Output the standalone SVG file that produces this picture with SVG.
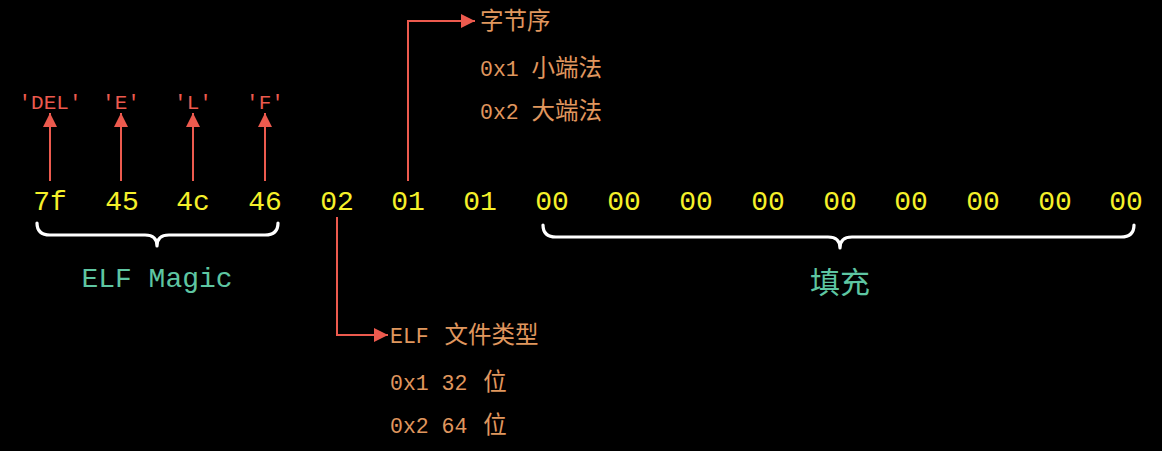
<svg xmlns="http://www.w3.org/2000/svg" width="1162" height="451" viewBox="0 0 1162 451">
<style>
.byte{font-family:"Liberation Mono","DejaVu Sans Mono",monospace;font-size:28px;fill:#f5f02a;text-anchor:middle}
.chr{font-family:"Liberation Mono",monospace;font-size:21px;fill:#ec5a4e;text-anchor:middle}
.note{font-family:"Liberation Mono","Noto Sans CJK SC",monospace;font-size:21.5px;fill:#e0975e}
.cjk{font-family:"Noto Sans CJK SC",sans-serif;font-size:23.5px}
.lbl{font-family:"Liberation Mono","Noto Sans CJK SC",monospace;font-size:28px;fill:#5ec6a2;text-anchor:middle}
.arr{stroke:#ec5a4e;stroke-width:2;fill:none}
.brace{stroke:#ffffff;stroke-width:3.2;fill:none;stroke-linecap:round;stroke-linejoin:round}
</style>
<defs>
<marker id="ah" viewBox="0 0 10 10" refX="10" refY="5" markerWidth="14" markerHeight="14" markerUnits="userSpaceOnUse" orient="auto">
<path d="M0,0 L10,5 L0,10 Z" fill="#ec5a4e"/>
</marker>
</defs>
<rect width="1162" height="451" fill="#000"/>
<g id="bytes">
<g id="b0"><text class="byte" x="50" y="210">7f</text></g>
<g id="b1"><text class="byte" x="122" y="210">45</text></g>
<g id="b2"><text class="byte" x="193" y="210">4c</text></g>
<g id="b3"><text class="byte" x="265" y="210">46</text></g>
<g id="b4"><text class="byte" x="337" y="210">02</text></g>
<g id="b5"><text class="byte" x="408" y="210">01</text></g>
<g id="b6"><text class="byte" x="480" y="210">01</text></g>
<g id="b7"><text class="byte" x="552" y="210">00</text></g>
<g id="b8"><text class="byte" x="624" y="210">00</text></g>
<g id="b9"><text class="byte" x="696" y="210">00</text></g>
<g id="b10"><text class="byte" x="768" y="210">00</text></g>
<g id="b11"><text class="byte" x="840" y="210">00</text></g>
<g id="b12"><text class="byte" x="911" y="210">00</text></g>
<g id="b13"><text class="byte" x="983" y="210">00</text></g>
<g id="b14"><text class="byte" x="1055" y="210">00</text></g>
<g id="b15"><text class="byte" x="1126" y="210">00</text></g>
</g>
<g id="chars">
<g id="c0"><text class="chr" x="50" y="109">'DEL'</text></g>
<g id="c1"><text class="chr" x="121" y="109">'E'</text></g>
<g id="c2"><text class="chr" x="193" y="109">'L'</text></g>
<g id="c3"><text class="chr" x="265" y="109">'F'</text></g>
</g>
<g id="magic">
<path class="brace" d="M37,223 Q37,235 50,235 L145,235 Q157,235 157,246 Q157,235 169,235 L265,235 Q278,235 278,223"/>
<text class="lbl" x="157" y="287">ELF Magic</text>
</g>
<g id="padding">
<path class="brace" d="M543,225 Q543,237 556,237 L828,237 Q840,237 840,248 Q840,237 852,237 L1121,237 Q1134,237 1134,225"/>
<text class="lbl" x="840" y="293" style="font-size:30px">填充</text>
</g>
<g id="endian">
<text class="note" x="480" y="29"><tspan class="cjk">字节序</tspan></text>
<text class="note" x="480" y="76">0x1 <tspan class="cjk">小端法</tspan></text>
<text class="note" x="480" y="119">0x2 <tspan class="cjk">大端法</tspan></text>
</g>
<g id="type">
<text class="note" x="390" y="343">ELF <tspan class="cjk" dx="3">文件类型</tspan></text>
<text class="note" x="390" y="390">0x1 32 <tspan class="cjk" dx="3">位</tspan></text>
<text class="note" x="390" y="433">0x2 64 <tspan class="cjk" dx="3">位</tspan></text>
</g>
<g id="connectors">
<line class="arr" x1="50" y1="181" x2="50" y2="113" marker-end="url(#ah)"/>
<line class="arr" x1="121" y1="181" x2="121" y2="113" marker-end="url(#ah)"/>
<line class="arr" x1="193" y1="181" x2="193" y2="113" marker-end="url(#ah)"/>
<line class="arr" x1="265" y1="181" x2="265" y2="113" marker-end="url(#ah)"/>
<polyline class="arr" points="408,181 408,21 475,21" marker-end="url(#ah)"/>
<polyline class="arr" points="337,217 337,335 388,335" marker-end="url(#ah)"/>
</g>
</svg>
